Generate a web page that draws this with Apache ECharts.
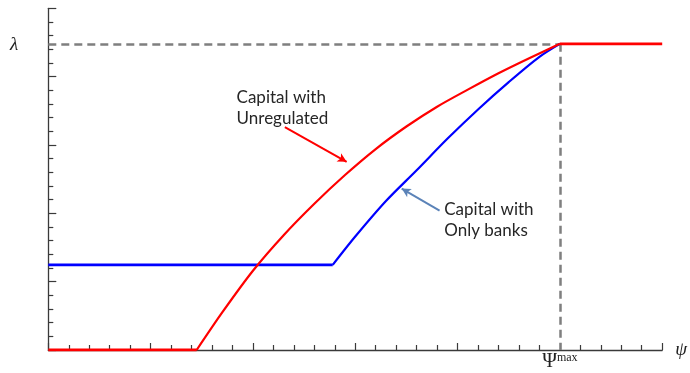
<!DOCTYPE html>
<html>
<head>
<meta charset="utf-8">
<style>
  html, body { margin: 0; padding: 0; background: #fff; }
  #chart { width: 690px; height: 373px; }
</style>
<script src="https://cdn.jsdelivr.net/npm/echarts@6/dist/echarts.min.js"></script>
</head>
<body>
<div id="chart"></div>
<script>
// Capital requirement as a function of psi
const LAMBDA = 22.4;       // cap level λ
const PSI_MAX = 25;        // Ψ^max on the horizontal axis
const X_MAX = 30;
const Y_MAX = 25;

// Unregulated capital: zero, then concave rise to λ, then flat
const redFlatLow = [[0, 0], [7.25, 0]];
const redCurve = [
  [7.25, 0], [8.5, 2.75], [10, 5.8], [11.5, 8.4], [13, 10.7], [14.5, 12.8],
  [16, 14.7], [17.5, 16.35], [19, 17.8], [20.5, 19.05], [22, 20.25],
  [23.5, 21.35], [25, 22.4]
];
const redFlatHigh = [[25, 22.4], [30, 22.4]];

// Only-banks capital: floor, then rise to λ
const blueFlat = [[0, 6.23], [13.9, 6.23]];
const blueCurve = [
  [13.9, 6.23], [15, 8.3], [16.5, 10.9], [18, 13.15], [19.5, 15.45],
  [21, 17.6], [22.5, 19.6], [24, 21.45], [25, 22.4]
];

// Annotation arrows (data coordinates: start, end)
const arrowUnreg = [[11.56, 16.31], [14.58, 13.77]];
const arrowBanks = [[19.12, 10.2], [17.27, 11.81]];
const labelUnreg = 'Capital with\nUnregulated';
const labelBanks = 'Capital with\nOnly banks';

const chart = echarts.init(document.getElementById('chart'), null, { renderer: 'canvas' });

const axisColor = '#3a3a3a';
const textFont = 'Lato, "Open Sans", "Noto Sans", sans-serif';
const serif = '"Liberation Serif", "DejaVu Serif", serif';

function line(data, color, width, smooth) {
  return {
    type: 'line', data: data, smooth: smooth ? 0.3 : false,
    symbol: 'none', lineStyle: { color: color, width: width },
    z: 5, silent: true, animation: false
  };
}

chart.setOption({
  animation: false,
  grid: { left: 48.3, right: 27.3, top: 8.3, bottom: 20.3 },
  xAxis: {
    type: 'value', min: 0, max: X_MAX, interval: 5,
    axisLine: { show: true, onZero: false, lineStyle: { color: axisColor, width: 1.3 } },
    axisTick: { show: true, inside: true, length: 7, lineStyle: { color: axisColor, width: 1.2 } },
    minorTick: { show: true, splitNumber: 5, length: 5, lineStyle: { color: axisColor, width: 1.2 } },
    splitLine: { show: false },
    axisLabel: {
      show: true, margin: 2, interval: 0, showMinLabel: true, showMaxLabel: true,
      formatter: v => (v === PSI_MAX ? '{a|Ψ}{b|max}' : ''),
      rich: {
        a: { fontFamily: serif, fontSize: 20, color: '#222', verticalAlign: 'top', lineHeight: 20 },
        b: { fontFamily: serif, fontSize: 12, color: '#222', verticalAlign: 'top', lineHeight: 20, padding: [0, 0, 9, 0] }
      }
    },
    name: 'ψ', nameLocation: 'end', nameGap: 13,
    nameTextStyle: { fontFamily: serif, fontStyle: 'italic', fontSize: 19, color: '#222', verticalAlign: 'middle' }
  },
  yAxis: {
    type: 'value', min: 0, max: Y_MAX, interval: 5,
    axisLine: { show: true, onZero: false, lineStyle: { color: axisColor, width: 1.3 } },
    axisTick: { show: true, inside: true, length: 8, lineStyle: { color: axisColor, width: 1.2 } },
    minorTick: { show: true, splitNumber: 5, length: 5, lineStyle: { color: axisColor, width: 1.2 } },
    splitLine: { show: false },
    axisLabel: { show: false }
  },
  graphic: [{
    type: 'text', left: 10, top: 35,
    style: { text: 'λ', font: 'italic 19px "Liberation Serif", "DejaVu Serif", serif', fill: '#222' }
  }],
  series: [
    // dashed guides at λ and Ψ^max
    {
      type: 'line', data: [], symbol: 'none', silent: true, z: 3,
      markLine: {
        silent: true, symbol: ['none', 'none'], animation: false,
        label: { show: false },
        lineStyle: { type: [8, 5], color: '#7f7f7f', width: 2.5 },
        data: [
          [{ coord: [0, LAMBDA] }, { coord: [PSI_MAX, LAMBDA] }],
          [{ coord: [PSI_MAX, LAMBDA] }, { coord: [PSI_MAX, 0] }]
        ]
      }
    },
    line(blueFlat, '#0000ff', 2.8, false),
    line(blueCurve, '#0000ff', 2.2, true),
    line(redFlatLow, '#ff0000', 2.8, false),
    line(redCurve, '#ff0000', 2.2, true),
    line(redFlatHigh, '#ff0000', 2.8, false),
    // annotation arrows and their texts
    {
      type: 'line', data: [], symbol: 'none', silent: true, z: 6,
      markLine: {
        silent: true, animation: false, symbol: ['none', 'arrow'], symbolSize: [7, 9],
        label: { show: false },
        data: [
          [{ coord: arrowUnreg[0], lineStyle: { color: '#ff0000', width: 2, type: 'solid' } },
           { coord: arrowUnreg[1] }],
          [{ coord: arrowBanks[0], lineStyle: { color: '#5b83b8', width: 2, type: 'solid' } },
           { coord: arrowBanks[1] }]
        ]
      },
      markPoint: {
        silent: true, animation: false, symbol: 'circle', symbolSize: 0,
        data: [
          {
            coord: [9.2, 17.72],
            label: {
              show: true, position: 'right', distance: 0, formatter: labelUnreg,
              fontFamily: textFont, fontSize: 17, lineHeight: 21, color: '#262626', align: 'left'
            }
          },
          {
            coord: [19.35, 9.53],
            label: {
              show: true, position: 'right', distance: 0, formatter: labelBanks,
              fontFamily: textFont, fontSize: 17, lineHeight: 21, color: '#262626', align: 'left'
            }
          }
        ]
      }
    }
  ]
});
</script>
</body>
</html>
